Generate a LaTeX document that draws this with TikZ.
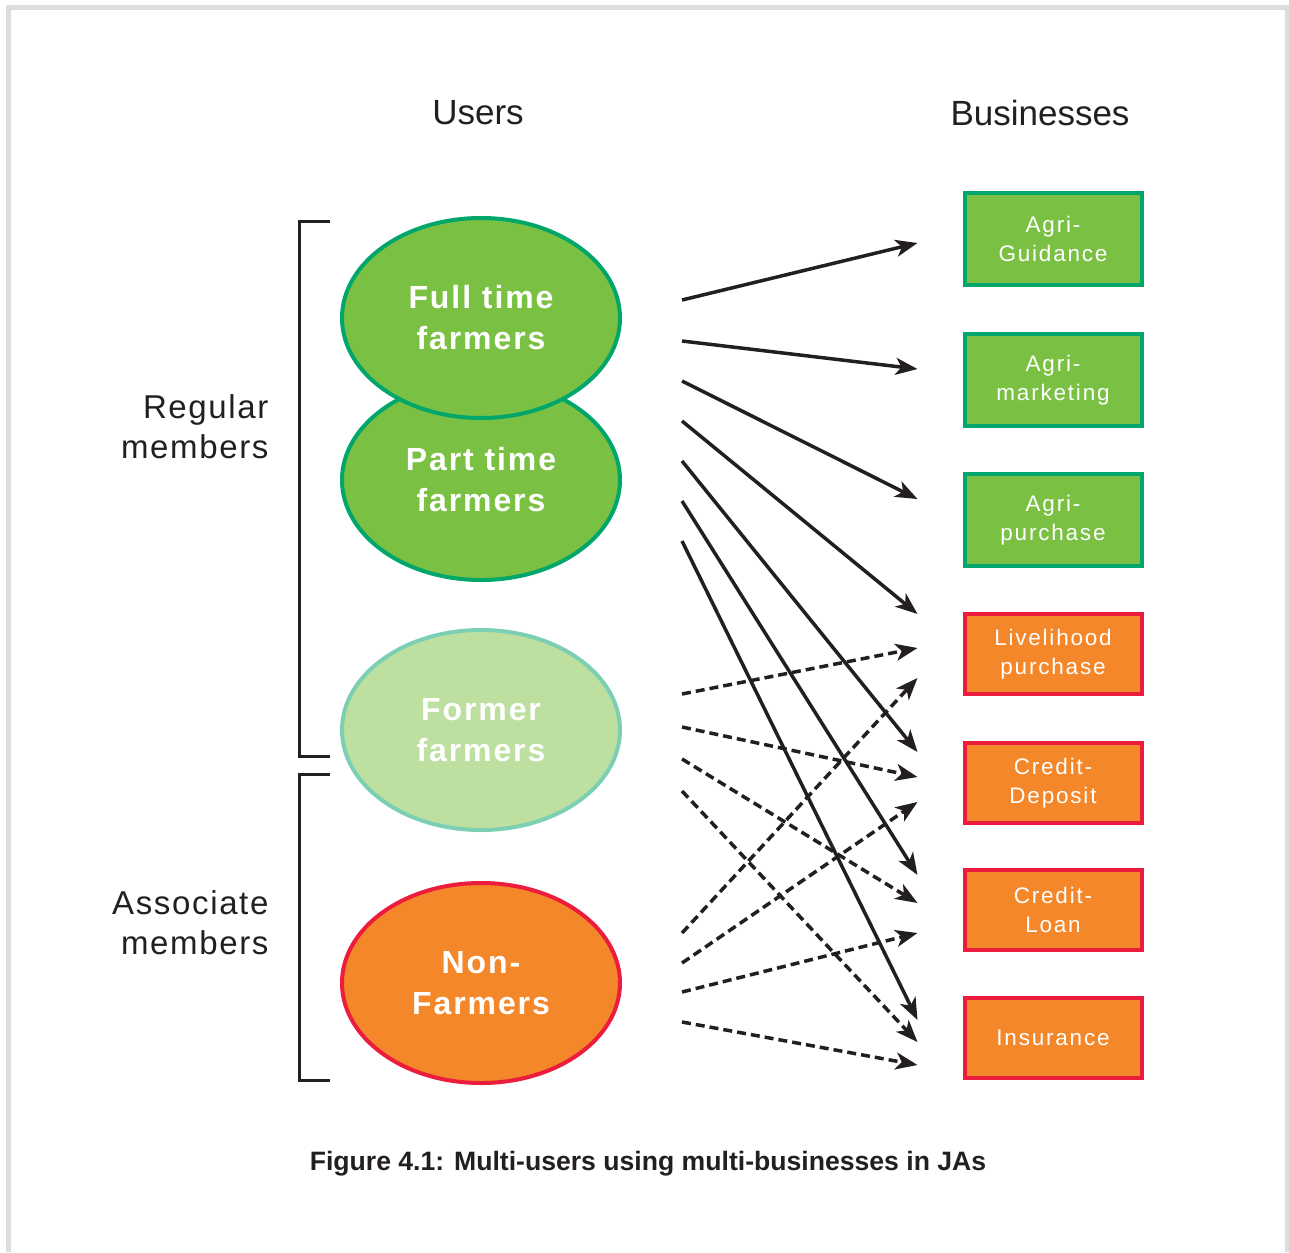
\documentclass[tikz,border=0pt]{standalone}
\usepackage{fontspec}
\setmainfont{Liberation Sans}
\newfontfamily\userfont[LetterSpace=6]{Liberation Sans}
\newfontfamily\bizfont[LetterSpace=8]{Liberation Sans}
\newfontfamily\sidefont[LetterSpace=5]{Liberation Sans}
\usetikzlibrary{shapes.geometric,arrows.meta}

\definecolor{leaf}{HTML}{7AC143}
\definecolor{leafline}{HTML}{00A66A}
\definecolor{pale}{HTML}{BDE0A0}
\definecolor{paleline}{HTML}{7DCFB4}
\definecolor{amber}{HTML}{F4872A}
\definecolor{amberline}{HTML}{EC1C3C}
\definecolor{frame}{HTML}{DCDDDE}
\definecolor{ink}{HTML}{231F20}

\begin{document}
\begin{tikzpicture}[x=1pt,y=-1pt,>={Stealth[length=22pt,width=17pt,inset=6pt]}]
    \tikzstyle{user}=[ellipse,minimum width=278pt,minimum height=200pt,inner sep=0pt,line width=4pt,text=white,align=center,font=\userfont\bfseries\fontsize{32}{41}\selectfont]
    \tikzstyle{full user}=[user,fill=leaf,draw=leafline]
    \tikzstyle{former user}=[user,fill=pale,draw=paleline]
    \tikzstyle{non user}=[user,fill=amber,draw=amberline]
    \tikzstyle{biz}=[rectangle,minimum width=177pt,inner sep=0pt,line width=4pt,text=white,align=center,font=\bizfont\fontsize{22.5}{28.5}\selectfont]
    \tikzstyle{agri}=[biz,fill=leaf,draw=leafline,minimum height=92pt]
    \tikzstyle{other}=[biz,fill=amber,draw=amberline,minimum height=80pt]
    \tikzstyle{head}=[font=\fontsize{35}{40}\selectfont,text=ink]
    \tikzstyle{side}=[align=right,anchor=east,text=ink,font=\sidefont\fontsize{33}{40}\selectfont]
    \tikzstyle{use}=[->,line width=3.5pt,draw=ink]
    \tikzstyle{may use}=[use,dash pattern=on 9pt off 5pt]

    \useasboundingbox (0,0) rectangle (1289,1252);
    \draw[frame,line width=5pt] (8,1252) -- (8,8) -- (1287,8) -- (1287,1252);

    % Column headings
    \node[head] (users) at (478,113) {Users};
    \node[head] (businesses) at (1040,113) {Businesses};

    % Draw the users
    \node[full user] (part) at (481,480) {Part time\\farmers};
    \node[full user] (full) at (481,318) {Full time\\farmers};
    \node[former user] (former) at (481,730) {Former\\farmers};
    \node[non user] (non) at (481,983) {Non-\\Farmers};

    % Brackets for the two kinds of members
    \draw[ink,line width=3pt] (330,221) -- (299,221) -- (299,756) -- (330,756);
    \draw[ink,line width=3pt] (330,774) -- (299,774) -- (299,1080) -- (330,1080);
    \node[side] (regular) at (272,427) {Regular\\members};
    \node[side] (associate) at (272,923) {Associate\\members};

    % Draw the businesses
    \foreach \name/\y/\txt/\kind in {1/239/{Agri-\\Guidance}/agri,2/380/{Agri-\\marketing}/agri,
        3/520/{Agri-\\purchase}/agri,4/654/{Livelihood\\purchase}/other,5/783/{Credit-\\Deposit}/other,
        6/910/{Credit-\\Loan}/other,7/1038/{Insurance}/other}
        \node[\kind] (B-\name) at (1053,\y) {\txt};

    % Where the arrows leave the users
    \foreach \i/\y in {1/300,2/341,3/381,4/421,5/461,6/501,7/541}
        \coordinate (F-\i) at (682,\y);
    \foreach \i/\y in {1/694,2/727,3/759,4/791}
        \coordinate (R-\i) at (682,\y);
    \foreach \i/\y in {1/933,2/963,3/992,4/1022}
        \coordinate (N-\i) at (682,\y);

    % Farmers use every business
    \foreach \s/\dy in {1/4,2/-11,3/-21,4/-40,5/-31,6/-35,7/-18}
        \draw[use] (F-\s) -- ([shift={(-45,\dy)}]B-\s.west);

    % Former farmers and non-farmers use some of them
    \foreach \s/\t/\dy in {1/4/-6,2/5/-6,3/6/-7,4/7/4}
        \draw[may use] (R-\s) -- ([shift={(-45,\dy)}]B-\t.west);
    \foreach \s/\t/\dy in {1/4/24,2/5/19,3/6/23,4/7/27}
        \draw[may use] (N-\s) -- ([shift={(-45,\dy)}]B-\t.west);

    % Caption
    \node[text=ink,font=\bfseries\fontsize{26.6}{30}\selectfont] (caption) at (648,1164) {Figure 4.1: Multi-users using multi-businesses in JAs};
\end{tikzpicture}
\end{document}
